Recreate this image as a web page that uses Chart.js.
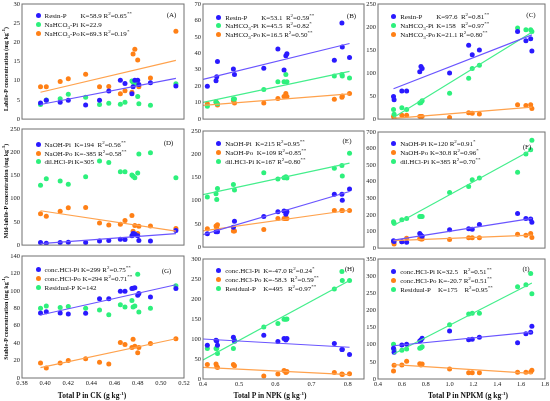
<!DOCTYPE html>
<html><head><meta charset="utf-8">
<script src="https://cdn.jsdelivr.net/npm/chart.js@4.4.0/dist/chart.umd.min.js"></script>
<style>
body{margin:0;background:#fff;}
#wrap{position:relative;width:550px;height:401px;overflow:hidden;font-family:"Liberation Serif","Times New Roman",serif;color:#111;}
canvas{position:absolute;}
.row{position:absolute;font-size:7px;line-height:8px;height:8px;white-space:pre;}
.dot{display:inline-block;width:5px;height:5px;border-radius:50%;margin-right:4px;vertical-align:0px;}
.nm{display:inline-block;}
sup{font-size:5px;vertical-align:3px;line-height:0;}
sub{font-size:5px;vertical-align:-1.5px;line-height:0;}
.plab{position:absolute;font-size:7px;transform:translate(-50%,-50%);white-space:nowrap;}
.ytitle{position:absolute;font-weight:bold;font-size:6px;white-space:nowrap;transform:translate(-50%,-50%) rotate(-90deg);}
.xtitle{position:absolute;font-weight:bold;font-size:7.5px;white-space:nowrap;transform:translate(-50%,-50%);}
</style></head><body><div id="wrap"></div>
<script>
// ---------- x values (total P) ----------
const xCK   = [0.396,0.401,0.413,0.420,0.435,0.447,0.455,0.465,0.469,0.475,0.476,0.4775,0.480,0.481,0.491,0.513];
const xNPK  = [0.412,0.436,0.438,0.440,0.484,0.487,0.568,0.607,0.624,0.629,0.632,0.763,0.784,0.785,0.805];
const xNPKM = [0.53,0.535,0.60,0.64,0.75,0.76,0.77,1.00,1.16,1.19,1.25,1.57,1.64,1.68,1.69];
const lineX_CK = [0.396,0.513];
const lineX_NPK = [0.40,0.805];
const lineX_NPKM = [0.53,1.69];
// ---------- tick ranges ----------
const xTicksCK = [0.38,0.52,0.02];
const xTicksNPK = [0.4,0.845,0.1];
const xTicksNPKM = [0.4,1.8,0.2];
// ---------- A ----------
const resinA = [4.2,4.9,4.4,4.9,3.7,4.9,7.3,10.1,9.3,6.6,8.4,10.1,10.1,9.0,9.5,8.6];
const bicPiA = [3.8,5.0,5.3,6.5,5.7,3.8,4.1,3.9,4.4,9.9,9.6,9.2,5.9,4.0,3.6,9.2];
const bicPoA = [8.4,8.4,9.8,10.5,11.7,8.4,8.5,6.6,7.4,7.0,17.0,18.2,15.4,8.4,10.7,22.9];
const trendResinA = [3.8,10.6];
const trendBicPoA = [7.0,15.3];
// ---------- B ----------
const resinB = [20,23.3,25.8,35,30.5,27.2,31,42.7,29.8,38.6,39.7,35.8,58.5,43.8,37.4];
const bicPiB = [7.8,10.2,9.8,9.4,12.3,12.3,18,22.7,22.7,27.2,22.7,26.2,27.2,26.2,25];
const bicPoB = [9.4,10.6,9.6,8.6,11.3,9.8,9.8,12.5,13.7,15.6,13.7,12.1,13.3,14,15.6];
const trendResinB = [24.2,46];
const trendBicPiB = [10.2,29];
const trendBicPoB = [8.4,15.4];
// ---------- C ----------
const resinC = [48.9,41.9,60.8,60.8,103,114.5,110,100,160.6,140,150,190,170,174.6,148];
const bicPiC = [21,10.5,24.4,21,35,36.3,40,56,88.7,110,117,198,194,194,190];
const bicPoC = [5.6,1.4,8.4,8.4,5.6,5.6,5.6,3.5,14,12.6,11.2,31.4,29.3,31.4,23];
const trendResinC = [66,183];
const trendBicPiC = [3.5,188.5];
const trendBicPoC = [1.4,25.8];
// ---------- D ----------
const naohPiD = [5.6,4.2,5.6,6.3,5.6,9.0,9.8,12.6,11.9,20,25,24,20,9.8,9.0,31.4];
const naohPoD = [67.7,62,72.7,80.3,81,47.6,43.4,44.7,53,63.5,30,42,25,40.5,41.3,35.6];
const dilPiD  = [129,143,138,131,147,181,178,158,158,151,148,145,155,196,199,145];
const trendNaohPiD = [3,24.5];
const trendNaohPoD = [74,30];
// ---------- E ----------
const naohPiE = [29,33,34,33,43,55.7,66,76,78,71,76,114,114,101,125];
const naohPoE = [39.7,45.3,41,48,34.8,34.8,38,61.6,61.6,61.6,61.6,79,79,79,79];
const dilPiE  = [108,115,102.5,126,135,123,160,146.6,149.4,151.5,149,170,175.6,153.3,202];
const trendNaohPiE = [27,119.8];
const trendNaohPoE = [34.8,79.4];
const trendDilPiE  = [113,181];
// ---------- F ----------
const naohPiF = [45,40,39,36,87.5,78,72,111,117,113,142,208,179,175,156];
const naohPoF = [39,25,39,60,58,54.5,54.5,52.5,62,62,62,83.6,78,87.5,64];
const dilPiF  = [159.5,150,171,179,190.6,190.6,190.6,334.6,371.6,412,422,457,568,593,651];
const trendNaohPiF = [48.6,179];
const trendNaohPoF = [44.7,78];
const trendDilPiF  = [136,593];
// ---------- G ----------
const concPiG = [74.6,76,74.6,73.5,74.2,91,90.8,99.6,99.6,102.7,103,103.5,95,97,93,102.7];
const concPoG = [17.3,11.5,17.3,20,22,18,16,40.8,38.5,35,44.6,36.5,29,35,39.6,45];
const residualG = [80,82.7,81,82,80,78,72.7,84,81.5,89,81.5,82.7,119,75.8,80,106];
const trendConcPiG = [72.3,107];
const trendConcPoG = [12,45];
// ---------- H ----------
const concPiH = [84.4,97,95,84.4,104.4,94.4,109.4,93.6,101,97.7,101,88.6,73.5,73.5,61];
const concPoH = [36,37.6,31,29,36,33.4,7.5,12.5,21,16,19,16,12.5,11,13.4];
const residualH = [76,76,76,63.5,76,97.7,130,138.7,149.5,149.5,150,224.7,269,246.4,246.4];
const trendConcPiH = [100,79.4];
const trendConcPoH = [29,11];
const trendResidualH = [47.6,246.4];
// ---------- I ----------
const concPiI = [89.4,77.8,99,101,111,113.7,118.6,140,114.7,115.7,121.5,106,132,136,153.6];
const concPoI = [23.3,40,40.8,51.5,44.7,40.8,43.7,29,18.5,18.5,18.5,19.4,19.4,20.4,25.3];
const residualI = [101,84.6,83.6,87.5,89.4,91.4,94.3,158.5,189.6,191.5,191.5,269.3,275,308,249];
const trendConcPiI = [97,137];
const trendConcPoI = [41.8,16.5];
const trendResidualI = [73,280];

const COL = {
  b:{pt:'#2a1aff', ln:'#6a55ff'},
  g:{pt:'#2df07c', ln:'#44ee8c'},
  o:{pt:'#ff8016', ln:'#ffa24d'}
};
const R2 = 'R<sup>2</sup>';
const panels = [
 {lab:'(A)', rect:[22,4,184,123.3], xs:xCK, xt:xTicksCK, dec:2, ymax:30, ystep:5, lx:lineX_CK, row:0, labPos:[171.5,15], legTop:12, nmW:36,
  series:[[resinA,'b',trendResinA],[bicPiA,'g',null],[bicPoA,'o',trendBicPoA]],
  legend:[['Resin-P','K=58.9 '+R2+'=0.65<sup>**</sup>'],['NaHCO<sub>3</sub>-Pi','K=22.9'],['NaHCO<sub>3</sub>-Po','K=69.3 '+R2+'=0.19<sup>*</sup>']]},
 {lab:'(B)', rect:[202.7,4,364,123.3], xs:xNPK, xt:xTicksNPK, dec:1, ymax:70, ystep:10, lx:lineX_NPK, row:0, labPos:[351.5,15.5], legTop:13.5, nmW:36,
  series:[[resinB,'b',trendResinB],[bicPiB,'g',trendBicPiB],[bicPoB,'o',trendBicPoB]],
  legend:[['Resin-P','K=53.1  '+R2+'=0.59<sup>**</sup>'],['NaHCO<sub>3</sub>-Pi','K=45.5  '+R2+'=0.82<sup>*</sup>'],['NaHCO<sub>3</sub>-Po','K=16.5 '+R2+'=0.50<sup>**</sup>']]},
 {lab:'(C)', rect:[377.7,4,545,123.3], xs:xNPKM, xt:xTicksNPKM, dec:1, ymax:250, ystep:50, lx:lineX_NPKM, row:0, labPos:[531,15], legTop:13, nmW:36,
  series:[[resinC,'b',trendResinC],[bicPiC,'g',trendBicPiC],[bicPoC,'o',trendBicPoC]],
  legend:[['Resin-P','K=97.6  '+R2+'=0.81<sup>**</sup>'],['NaHCO<sub>3</sub>-Pi','K=158   '+R2+'=0.97<sup>**</sup>'],['NaHCO<sub>3</sub>-Po','K=21.1 '+R2+'=0.80<sup>**</sup>']]},
 {lab:'(D)', rect:[22,129.3,184,249], xs:xCK, xt:xTicksCK, dec:2, ymax:250, ystep:50, lx:lineX_CK, row:1, labPos:[168.5,143], legTop:15.5, nmW:30,
  series:[[naohPiD,'b',trendNaohPiD],[naohPoD,'o',trendNaohPoD],[dilPiD,'g',null]],
  legend:[['NaOH-Pi','K=194  '+R2+'=0.56<sup>**</sup>'],['NaOH-Po','K=-385 '+R2+'=0.58<sup>**</sup>'],['dil.HCl-Pi','K=305']]},
 {lab:'(E)', rect:[202.7,131,364,250.7], xs:xNPK, xt:xTicksNPK, dec:1, ymax:250, ystep:50, lx:lineX_NPK, row:1, labPos:[347,140.5], legTop:13, nmW:0,
  series:[[naohPiE,'b',trendNaohPiE],[naohPoE,'o',trendNaohPoE],[dilPiE,'g',trendDilPiE]],
  legend:[['NaOH-Pi','  K=215 '+R2+'=0.95<sup>**</sup>'],['NaOH-Po','  K=109 '+R2+'=0.85<sup>**</sup>'],['dil.HCl-Pi',' K=167 '+R2+'=0.80<sup>**</sup>']]},
 {lab:'(F)', rect:[377.7,131.7,545,251.7], xs:xNPKM, xt:xTicksNPKM, dec:1, ymax:700, ystep:100, lx:lineX_NPKM, row:1, labPos:[527,146.5], legTop:12.5, nmW:0,
  series:[[naohPiF,'b',trendNaohPiF],[naohPoF,'o',trendNaohPoF],[dilPiF,'g',trendDilPiF]],
  legend:[['NaOH-Pi',' K=120 '+R2+'=0.91<sup>*</sup>'],['NaOH-Po',' K=30.8 '+R2+'=0.96<sup>*</sup>'],['dil.HCl-Pi',' K=385 '+R2+'=0.70<sup>**</sup>']]},
 {lab:'(G)', rect:[22,256.3,184,377.7], xs:xCK, xt:xTicksCK, dec:2, ymax:140, ystep:20, lx:lineX_CK, row:2, labPos:[166.5,270.5], legTop:14, nmW:0,
  series:[[concPiG,'b',trendConcPiG],[concPoG,'o',trendConcPoG],[residualG,'g',null]],
  legend:[['conc.HCl-Pi',' K=299 '+R2+'=0.75<sup>**</sup>'],['conc.HCl-Po',' K=294 '+R2+'=0.71<sup>**</sup>'],['Residual-P',' K=142']]},
 {lab:'(H)', rect:[202.7,259,364,378.7], xs:xNPK, xt:xTicksNPK, dec:1, ymax:300, ystep:50, lx:lineX_NPK, row:2, labPos:[349.5,269], legTop:12, nmW:38,
  series:[[concPiH,'b',trendConcPiH],[concPoH,'o',trendConcPoH],[residualH,'g',trendResidualH]],
  legend:[['conc.HCl-Pi','K=-47.0 '+R2+'=0.24<sup>*</sup>'],['conc.HCl-Po','K=-58.3  '+R2+'=0.59<sup>**</sup>'],['Residual-P','K=495   '+R2+'=0.97<sup>**</sup>']]},
 {lab:'(I)', rect:[377.7,259,545,379], xs:xNPKM, xt:xTicksNPKM, dec:1, ymax:350, ystep:50, lx:lineX_NPKM, row:2, labPos:[526,269], legTop:13.3, nmW:0,
  series:[[concPiI,'b',trendConcPiI],[concPoI,'o',trendConcPoI],[residualI,'g',trendResidualI]],
  legend:[['conc.HCl-Pi',' K=32.5   '+R2+'=0.51<sup>**</sup>'],['conc.HCl-Po',' K=-20.7 '+R2+'=0.51<sup>**</sup>'],['Residual-P','    K=175    '+R2+'=0.95<sup>**</sup>']]}
];

const wrap = document.getElementById('wrap');
const framePlugin = {
  id:'frame',
  afterDatasetsDraw(chart){
    const a = chart.chartArea, ctx = chart.ctx;
    ctx.save();
    ctx.strokeStyle = '#707070';
    ctx.lineWidth = 1;
    ctx.strokeRect(a.left, a.top, a.right-a.left, a.bottom-a.top);
    ctx.restore();
  }
};

panels.forEach(p=>{
  const [L,T,R,B] = p.rect;
  const yw = L < 100 ? 22 : 14;
  const pt = 6, pr = 8, xh = p.row===2 ? 10 : 2;
  const left = Math.round(L) - yw, top = Math.round(T) - pt;
  const w = Math.round(R) - Math.round(L) + yw + pr;
  const h = Math.round(B) - Math.round(T) + pt + xh;
  const c = document.createElement('canvas');
  c.style.left = left+'px'; c.style.top = top+'px';
  c.style.width = w+'px'; c.style.height = h+'px';
  c.width = w; c.height = h;
  wrap.appendChild(c);
  const datasets = [];
  p.series.forEach(([ys,k,tr])=>{
    if(tr){
      datasets.push({type:'scatter', showLine:true, data:p.lx.map((x,i)=>({x, y:tr[i]})),
        borderColor:COL[k].ln, borderWidth:1.2, pointRadius:0, fill:false});
    }
  });
  p.series.forEach(([ys,k])=>{
    datasets.push({type:'scatter', data:p.xs.map((x,i)=>({x, y:ys[i]})),
      backgroundColor:COL[k].pt, borderColor:COL[k].pt, borderWidth:0, pointRadius:2.5});
  });
  const tickFont = {family:'"Liberation Serif", serif', size:6.5};
  new Chart(c, {
    type:'scatter',
    data:{datasets},
    options:{
      responsive:false, animation:false,
      layout:{padding:{left:0, top:pt, right:pr, bottom:0}},
      plugins:{legend:{display:false}, tooltip:{enabled:false}},
      scales:{
        x:{type:'linear', min:p.xt[0], max:p.xt[1],
           ticks:{stepSize:p.xt[2], includeBounds:false, display:p.row===2, font:tickFont, color:'#222', padding:1,
                  maxRotation:0, autoSkip:false, callback:v=>Number(v).toFixed(p.dec)},
           grid:{display:false, drawTicks:false, tickLength:0}, border:{display:false},
           afterFit:s=>{s.height = xh;}},
        y:{type:'linear', min:0, max:p.ymax,
           ticks:{stepSize:p.ystep, autoSkip:false, font:tickFont, color:'#222', padding:2, callback:v=>v},
           grid:{display:false, drawTicks:false, tickLength:0}, border:{display:false},
           afterFit:s=>{s.width = yw;}}
      }
    },
    plugins:[framePlugin]
  });
  // legend
  p.legend.forEach(([nm,rest],i)=>{
    const k = p.series[i][1];
    const d = document.createElement('div');
    d.className = 'row';
    d.style.left = (L+13.5)+'px';
    d.style.top = (T + p.legTop + i*8.8 - 4)+'px';
    d.innerHTML = '<span class="dot" style="background:'+COL[k].pt+'"></span><span class="nm"'+
      (p.nmW? ' style="width:'+p.nmW+'px"':'')+'>'+nm+'</span>'+rest;
    wrap.appendChild(d);
  });
  const lb = document.createElement('div');
  lb.className='plab'; lb.textContent=p.lab;
  lb.style.left=p.labPos[0]+'px'; lb.style.top=p.labPos[1]+'px';
  wrap.appendChild(lb);
});

const yTitles = [['Labile-P concentration (mg kg<sup>-1</sup>)',69],['Mid-labile-P concentration (mg kg<sup>-1</sup>)',191],['Stable-P concentration (mg kg<sup>-1</sup>)',318]];
yTitles.forEach(([t,y])=>{
  const d=document.createElement('div'); d.className='ytitle'; d.innerHTML=t;
  d.style.left='6px'; d.style.top=y+'px'; wrap.appendChild(d);
});
const xTitles = [['Total P in CK (g kg<sup>-1</sup>)',92],['Total P in NPK (g kg<sup>-1</sup>)',270],['Total P in NPKM (g kg<sup>-1</sup>)',468]];
xTitles.forEach(([t,x])=>{
  const d=document.createElement('div'); d.className='xtitle'; d.innerHTML=t;
  d.style.left=x+'px'; d.style.top='395px'; wrap.appendChild(d);
});
</script></body></html>
